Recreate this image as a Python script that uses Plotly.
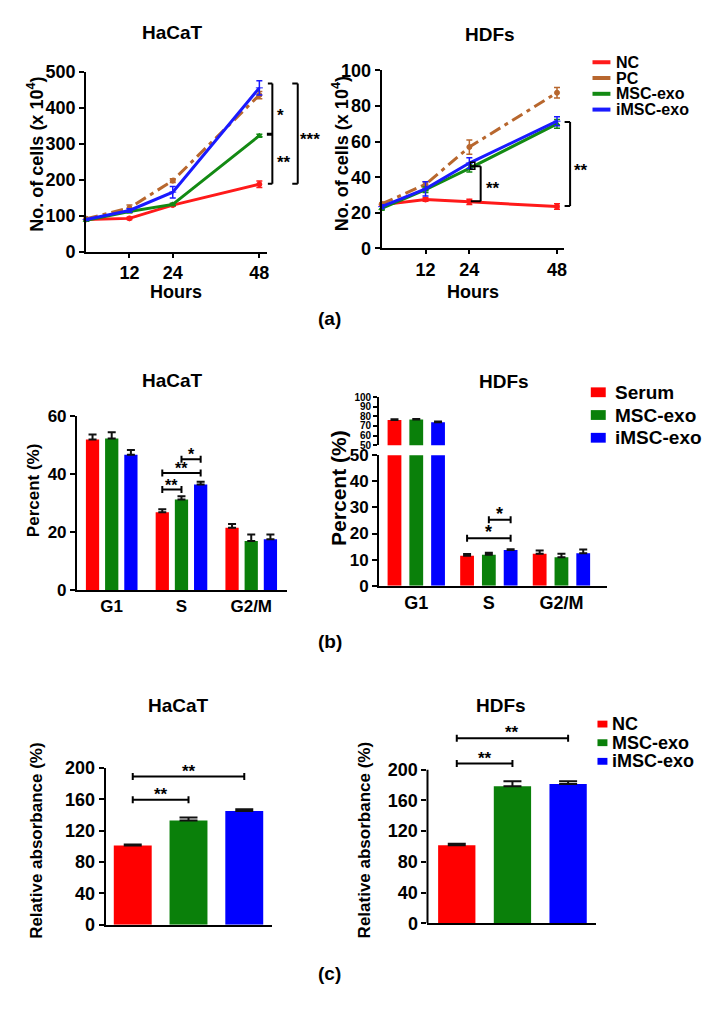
import plotly.graph_objects as go

W, H = 713, 1010
FONT = "Arial, Liberation Sans, Helvetica, sans-serif"

# ---------------- data ----------------
hours = [0, 12, 24, 48]
hour_ticks = [12, 24, 48]
line_groups = ["NC", "PC", "MSC-exo", "iMSC-exo"]

hacat_nc = [90, 93, 130, 188]
hacat_pc = [92, 122, 198, 436]
hacat_msc = [88, 112, 132, 323]
hacat_imsc = [90, 115, 166, 456]
hacat_nc_err = [3, 3, 3, 9]
hacat_pc_err = [3, 8, 5, 10]
hacat_msc_err = [2, 3, 3, 4]
hacat_imsc_err = [3, 5, 16, 20]

hdf_nc = [24.5, 27.5, 26.2, 23.6]
hdf_pc = [25, 36, 57, 87.5]
hdf_msc = [22.5, 33, 45, 70]
hdf_imsc = [23.5, 33.5, 48, 71.5]
hdf_nc_err = [1, 1, 1.5, 1.5]
hdf_pc_err = [1, 1.5, 4, 3]
hdf_msc_err = [1, 1.5, 2, 2.5]
hdf_imsc_err = [1, 4, 3, 2.5]

phases = ["G1", "S", "G2/M"]
cycle_groups = ["Serum", "MSC-exo", "iMSC-exo"]
hacat_serum = [51.8, 26.8, 21.4]
hacat_msc_c = [52.2, 31.2, 16.9]
hacat_imsc_c = [46.6, 36.3, 17.5]
hacat_serum_err = [1.8, 1.0, 1.3]
hacat_msc_c_err = [2.1, 1.1, 2.2]
hacat_imsc_c_err = [1.6, 1.0, 1.6]

hdf_serum = [76.2, 11.5, 12.2]
hdf_msc_c = [76.8, 11.9, 10.9]
hdf_imsc_c = [73.8, 13.7, 12.4]
hdf_serum_err = [0.8, 0.6, 1.3]
hdf_msc_c_err = [0.6, 0.7, 1.3]
hdf_imsc_c_err = [1.0, 0.3, 1.5]

absorb_groups = ["NC", "MSC-exo", "iMSC-exo"]
hacat_abs = [101, 133, 145]
hacat_abs_err = [1.5, 4, 2.5]
hdf_abs = [101.5, 178.5, 181.5]
hdf_abs_err = [2, 6.5, 3.5]

# ---------------- styles ----------------
line_colors = ["#FF1A1A", "#B8672E", "#138A13", "#1A1AFF"]
line_dash = ["solid", "12px,5px,4px,5px", "solid", "solid"]
line_symbols = ["circle", "circle", "triangle-up", "line-ew"]
bar_colors = ["#FF0000", "#0A800A", "#0000FF"]


def PX(x):
    return x / W


def PY(y):
    return 1 - y / H


def dom_x(a, b):
    return [a / W, b / W]


def dom_y(top, bottom):
    return [1 - bottom / H, 1 - top / H]


def tfont(size):
    return dict(family=FONT, size=size, color="black", weight="bold")


fig = go.Figure()

# ---------------- (a) growth curves ----------------
growth_sets = [
    ("x", "y", [hacat_nc, hacat_pc, hacat_msc, hacat_imsc],
     [hacat_nc_err, hacat_pc_err, hacat_msc_err, hacat_imsc_err]),
    ("x2", "y2", [hdf_nc, hdf_pc, hdf_msc, hdf_imsc],
     [hdf_nc_err, hdf_pc_err, hdf_msc_err, hdf_imsc_err]),
]
for xa, ya, series, errs in growth_sets:
    for i, name in enumerate(line_groups):
        fig.add_trace(go.Scatter(
            x=hours, y=series[i], name=name, mode="lines+markers",
            line=dict(color=line_colors[i], width=3, dash=line_dash[i]),
            marker=dict(color=line_colors[i], size=5, symbol=line_symbols[i],
                        line=dict(color=line_colors[i], width=1)),
            error_y=dict(type="data", array=errs[i], color=line_colors[i],
                         thickness=1.5, width=3),
            xaxis=xa, yaxis=ya, showlegend=False, cliponaxis=False))

# ---------------- (b) cell cycle ----------------
BW = 0.19
SP3 = 0.275
SP4 = 0.30
cyc_sets = [
    ("x3", ["y3"], SP3, [hacat_serum, hacat_msc_c, hacat_imsc_c],
     [hacat_serum_err, hacat_msc_c_err, hacat_imsc_c_err]),
    ("x4", ["y4", "y5"], SP4, [hdf_serum, hdf_msc_c, hdf_imsc_c],
     [hdf_serum_err, hdf_msc_c_err, hdf_imsc_c_err]),
]
for xa, yas, sp, series, errs in cyc_sets:
    for ya in yas:
        for i, name in enumerate(cycle_groups):
            fig.add_trace(go.Bar(
                x=list(range(len(phases))), y=series[i], name=name,
                width=BW, offset=-BW / 2 + (i - 1) * sp,
                marker=dict(color=bar_colors[i], line=dict(width=0)),
                error_y=dict(type="data", symmetric=False, array=errs[i],
                             arrayminus=[0] * len(errs[i]), color="#111111",
                             thickness=2, width=4),
                xaxis=xa, yaxis=ya, showlegend=False))

# ---------------- (c) absorbance ----------------
for xa, ya, vals, errs, bw in [("x6", "y6", hacat_abs, hacat_abs_err, 0.68),
                               ("x7", "y7", hdf_abs, hdf_abs_err, 0.67)]:
    fig.add_trace(go.Bar(
        x=list(range(len(absorb_groups))), y=vals, width=bw,
        marker=dict(color=bar_colors, line=dict(width=0)),
        error_y=dict(type="data", symmetric=False, array=errs,
                     arrayminus=[0] * len(errs), color="#111111",
                     thickness=2, width=9),
        xaxis=xa, yaxis=ya, showlegend=False, hovertext=absorb_groups))

# ---------------- axes ----------------
base = dict(showline=True, linecolor="black", linewidth=2, ticks="outside",
            ticklen=5, tickwidth=2, tickcolor="black", showgrid=False,
            zeroline=False, tickfont=tfont(18), fixedrange=True)


def ax(**kw):
    d = dict(base)
    d.update(kw)
    return d


layout_axes = dict(
    xaxis=ax(domain=dom_x(86.5, 267.7), range=[0, 50], tickvals=hour_ticks, anchor="y",
             ticklen=4),
    yaxis=ax(domain=dom_y(63.3, 246.7), range=[0, 500], dtick=100, anchor="x"),
    xaxis2=ax(domain=dom_x(383.3, 566.7), range=[0, 50], tickvals=hour_ticks, anchor="y2",
              ticklen=4),
    yaxis2=ax(domain=dom_y(61.7, 243.3), range=[0, 100], dtick=20, anchor="x2"),
    xaxis3=ax(domain=dom_x(77.3, 288.3), range=[-0.498, 2.514], tickvals=[0, 1, 2],
              ticktext=phases, ticks="", anchor="y3", tickfont=tfont(17)),
    yaxis3=ax(domain=dom_y(414, 591.7), range=[0, 60], dtick=20, anchor="x3",
              tickfont=tfont(17)),
    xaxis4=ax(domain=dom_x(380.7, 609.3), range=[-0.512, 2.624], tickvals=[0, 1, 2],
              ticktext=phases, ticks="", anchor="y4", tickfont=tfont(18)),
    yaxis4=ax(domain=dom_y(454.3, 587.3), range=[0, 50], dtick=10, anchor="x4",
              tickfont=tfont(17)),
    yaxis5=ax(domain=dom_y(395, 444), range=[50, 100], dtick=10, anchor="x4",
              tickfont=tfont(10), ticklen=4),
    xaxis6=ax(domain=dom_x(106, 273.3), range=[-0.4875, 2.5], showticklabels=False,
              ticks="", anchor="y6"),
    yaxis6=ax(domain=dom_y(773.3, 933.3), range=[0, 200], dtick=40, anchor="x6",
              tickfont=tfont(18)),
    xaxis7=ax(domain=dom_x(429.3, 598.3), range=[-0.526, 2.497], showticklabels=False,
              ticks="", anchor="y7"),
    yaxis7=ax(domain=dom_y(724.1, 931.7), range=[0, 265], tickvals=[0, 40, 80, 120, 160, 200],
              showline=False, anchor="x7", tickfont=tfont(18)),
)

shapes = []
annotations = []


def seg(xref, yref, x0, y0, x1, y1, w=2):
    shapes.append(dict(type="line", xref=xref, yref=yref, x0=x0, y0=y0, x1=x1, y1=y1,
                       line=dict(color="black", width=w)))


def text(x, y, s, size, xref="paper", yref="paper", angle=0, xanchor="center",
         yanchor="middle", yshift=0):
    annotations.append(dict(x=x, y=y, xref=xref, yref=yref, text=s, showarrow=False,
                            font=tfont(size), textangle=angle, xanchor=xanchor,
                            yanchor=yanchor, yshift=yshift))


def hbracket(xref, yref, x0, x1, y, label, size=16):
    seg(xref, yref, x0, y, x1, y)
    for xx in (x0, x1):
        shapes.append(dict(type="line", xref=xref, yref=yref, x0=xx, x1=xx,
                           ysizemode="pixel", yanchor=y, y0=-3.5, y1=3.5,
                           line=dict(color="black", width=2)))
    text((x0 + x1) / 2, y, label, size, xref=xref, yref=yref, yanchor="bottom", yshift=-6)


# y axis line for (c)-right, drawn only up to 200
shapes.append(dict(type="line", xref="x7 domain", yref="y7", x0=0, x1=0, y0=0, y1=200,
                   line=dict(color="black", width=2)))

# (a) left brackets
seg("paper", "y", PX(273.5), 189, PX(273.5), 468)
seg("paper", "y", PX(269), 468, PX(273.5), 468)
seg("paper", "y", PX(269), 189, PX(273.5), 189)
seg("paper", "y", PX(268), 327, PX(273.5), 327, 3)
seg("paper", "y", PX(299), 189, PX(299), 468)
seg("paper", "y", PX(293.5), 468, PX(299), 468)
seg("paper", "y", PX(293.5), 189, PX(299), 189)
text(PX(282), 391, "*", 17, yref="y", yshift=-4)
text(PX(285), 259, "**", 17, yref="y", yshift=-4)
text(PX(311), 323, "***", 17, yref="y", yshift=-4)

# (a) right brackets
seg("x2", "y2", 27.1, 26.6, 27.1, 46.2)
seg("x2", "y2", 24.4, 46.2, 27.1, 46.2)
seg("x2", "y2", 24.4, 26.6, 27.1, 26.6)
shapes.append(dict(type="rect", xref="x2", yref="y2", x0=24.3, x1=25.5, y0=44.5, y1=48.5,
                   line=dict(color="black", width=1.5)))
text(30.5, 35.8, "**", 17, xref="x2", yref="y2", yshift=-4)
seg("paper", "y2", PX(572.5), 23.8, PX(572.5), 71)
seg("paper", "y2", PX(567), 71, PX(572.5), 71)
seg("paper", "y2", PX(567), 23.8, PX(572.5), 23.8)
text(PX(583.5), 45.9, "**", 17, yref="y2", yshift=-4)

# (b) brackets
hbracket("x3", "y3", 1 - SP3, 1, 34.6, "**")
hbracket("x3", "y3", 1 - SP3, 1 + SP3, 40.3, "**")
hbracket("x3", "y3", 1, 1 + SP3, 45.0, "*")
hbracket("x4", "y4", 1 - SP4, 1 + SP4, 18.2, "*", 18)
hbracket("x4", "y4", 1, 1 + SP4, 25.3, "*", 18)

# (c) brackets
hbracket("x6", "y6", 0, 1, 159.5, "**", 17)
hbracket("x6", "y6", 0, 2, 189, "**", 17)
hbracket("x7", "y7", 0, 1, 208, "**", 17)
hbracket("x7", "y7", 0, 2, 241, "**", 17)

# titles
text(PX(173), PY(23), "HaCaT", 19)
text(PX(491.7), PY(25), "HDFs", 19)
text(PX(173.3), PY(378.3), "HaCaT", 19)
text(PX(505.7), PY(379), "HDFs", 19)
text(PX(179.3), PY(710), "HaCaT", 19)
text(PX(503.3), PY(709.3), "HDFs", 19)

# axis titles
text(PX(36), PY(146.7), "No. of cells (x 10<sup>4</sup>)", 18, angle=-90)
text(PX(342), PY(146.5), "No. of cells (x 10<sup>4</sup>)", 18, angle=-90)
text(PX(177), PY(288), "Hours", 18)
text(PX(475), PY(288), "Hours", 18)
text(PX(33), PY(490), "Percent (%)", 17, angle=-90)
text(PX(340), PY(488), "Percent (%)", 21, angle=-90)
text(PX(37.3), PY(847.5), "Relative absorbance (%)", 17, angle=-90)
text(PX(366), PY(846.7), "Relative absorbance (%)", 17, angle=-90)

# panel labels
text(PX(331), PY(315), "(a)", 19)
text(PX(331), PY(644), "(b)", 19)
text(PX(331), PY(983), "(c)", 19)

# legend (a): lines
for i, name in enumerate(line_groups):
    yy = 53.3 + i * 16.1
    shapes.append(dict(type="line", xref="paper", yref="paper", x0=PX(595), x1=PX(613),
                       y0=PY(yy), y1=PY(yy), line=dict(color=line_colors[i], width=4)))
    text(PX(617), PY(yy), name, 16, xanchor="left")

# legend (b): squares
for i, name in enumerate(cycle_groups):
    yy = 390 + i * 23.2
    shapes.append(dict(type="rect", xref="paper", yref="paper", x0=PX(593.3), x1=PX(608.3),
                       y0=PY(yy + 5), y1=PY(yy - 5), fillcolor=bar_colors[i],
                       line=dict(width=0)))
    text(PX(616), PY(yy), name, 19, xanchor="left")

# legend (c): small squares
for i, name in enumerate(absorb_groups):
    yy = 728.5 + i * 19
    shapes.append(dict(type="rect", xref="paper", yref="paper", x0=PX(600), x1=PX(610),
                       y0=PY(yy + 3.5), y1=PY(yy - 3.5), fillcolor=bar_colors[i],
                       line=dict(width=0)))
    text(PX(612.7), PY(yy), name, 18, xanchor="left")

fig.update_layout(
    width=W, height=H, autosize=False,
    margin=dict(l=0, r=0, t=0, b=0),
    paper_bgcolor="white", plot_bgcolor="white",
    showlegend=False, barmode="overlay",
    font=dict(family=FONT, color="black"),
    shapes=shapes, annotations=annotations,
    **layout_axes,
)

fig.write_html("out.html", config={"displayModeBar": False},
               post_script="document.body.style.margin='0';")
